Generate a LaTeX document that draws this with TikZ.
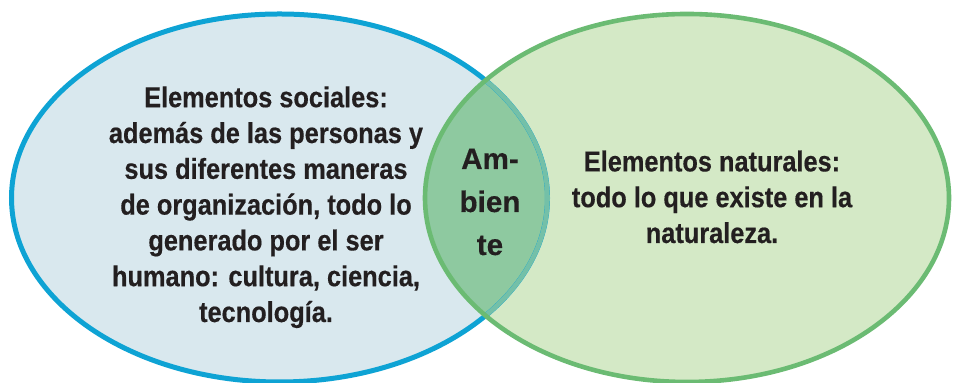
\documentclass[tikz,border=0pt]{standalone}
\usepackage{fontspec}
\setmainfont{Liberation Sans}[FakeStretch=0.88, BoldFeatures={FakeBold=0.4}]
\newfontfamily\midfont{Liberation Sans}[FakeStretch=1.0, BoldFeatures={FakeBold=0.4}]
\definecolor{bordblue}{HTML}{0EA3D4}
\definecolor{fillblue}{HTML}{D9E8EE}
\definecolor{bordgreen}{HTML}{6BBB73}
\definecolor{fillgreen}{HTML}{D4E9C6}
\definecolor{filloverlap}{HTML}{8EC9A0}
\definecolor{innerline}{HTML}{74C0A8}
\definecolor{txt}{HTML}{231F20}
\tikzset{
  lbl/.style={text=txt, align=center, font=\bfseries\fontsize{14.4}{17.9}\selectfont, inner sep=0pt},
  midlbl/.style={text=txt, align=center, font=\midfont\bfseries\fontsize{14.8}{21.5}\selectfont, inner sep=0pt},
}
\begin{document}
\begin{tikzpicture}[x=0.5pt,y=-0.5pt]
\useasboundingbox (0,0) rectangle (954,383);
\coordinate (lc) at (279.5,198);
\coordinate (rc) at (687,198);
\def\leftell{(lc) ellipse [x radius=268, y radius=184]}
\def\rightell{(rc) ellipse [x radius=262, y radius=184]}
% fills
\fill[fillblue] \leftell;
\fill[fillgreen] \rightell;
\begin{scope}
  \clip \leftell;
  \fill[filloverlap] \rightell;
\end{scope}
% borders
\draw[bordblue, line width=2.5pt] \leftell;
\begin{scope}
  \clip \rightell;
  \draw[innerline, line width=2.3pt] \leftell;
\end{scope}
\draw[bordgreen, line width=2.3pt] \rightell;
% texts (anchor base = baseline of the last line)
\node[lbl, anchor=base] (soc) at (266,322) {Elementos sociales:\\además de las personas y\\sus diferentes maneras\\de organización, todo lo\\generado por el ser\\humano: cultura, ciencia,\\tecnología.};
\node[midlbl, anchor=base] (amb) at (490,255) {Am-\\bien\\te};
\node[lbl, anchor=base] (nat) at (712,243) {Elementos naturales:\\todo lo que existe en la\\naturaleza.};
\end{tikzpicture}
\end{document}
